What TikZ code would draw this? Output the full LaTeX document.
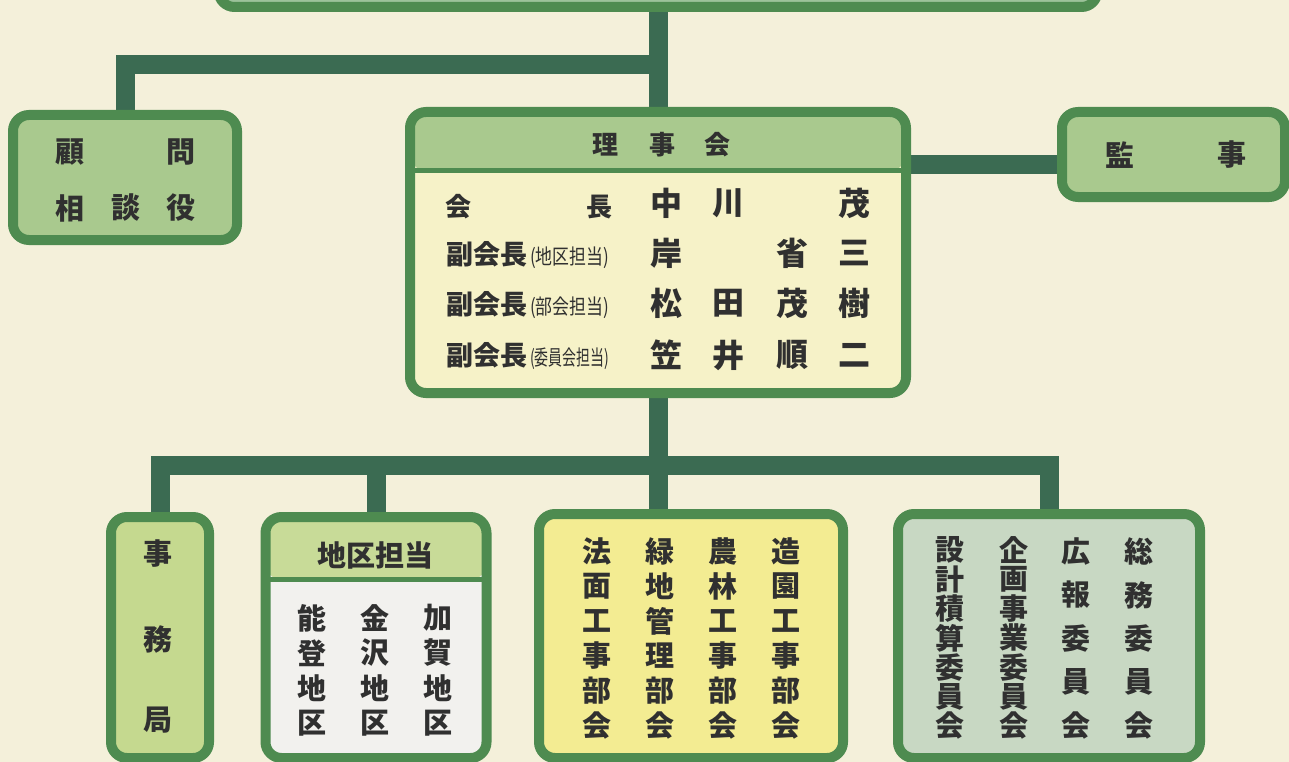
\documentclass[tikz,border=0pt]{standalone}
\usepackage{fontspec}
\usepackage{graphicx}
\newfontfamily\jp{Noto Sans CJK JP}
\IfFontExistsTF{Noto Sans CJK JP Black}{\newfontfamily\jpk{Noto Sans CJK JP Black}}{\newfontfamily\jpk{Noto Sans CJK JP}[UprightFont=*/B]}
\pgfdeclarelayer{back}
\pgfdeclarelayer{bg}
\pgfsetlayers{back,bg,main}
\definecolor{bgc}{HTML}{F4F0DA}
\definecolor{bord}{HTML}{4E8B50}
\definecolor{conng}{HTML}{3B6B52}
\definecolor{lgreen}{HTML}{A9C98E}
\definecolor{topg}{HTML}{9CC29A}
\definecolor{cream}{HTML}{F6F2C8}
\definecolor{ygreen}{HTML}{C5D98F}
\definecolor{hdry}{HTML}{C8DB98}
\definecolor{whitish}{HTML}{F2F1EE}
\definecolor{yell}{HTML}{F3EC92}
\definecolor{bluish}{HTML}{C8D8C3}
\definecolor{ink}{HTML}{303030}
\tikzset{
  box/.style={draw=bord, line width=10pt, rounded corners=16pt, inner sep=0pt},
  conn/.style={line width=19pt, draw=conng, line join=miter},
  t/.style={inner sep=0pt, text=ink, font=\jpk\fontsize{29}{29}\selectfont},
  th/.style={inner sep=0pt, text=ink, font=\jpk\fontsize{26}{26}\selectfont},
  tn/.style={inner sep=0pt, text=ink, font=\jp\bfseries\fontsize{32}{32}\selectfont},
  hdr/.style 2 args={path picture={
     \fill[#1] (path picture bounding box.north west) rectangle ([yshift=-#2]path picture bounding box.north east);
     \draw[bord, line width=5pt] ([yshift=-#2]path picture bounding box.north west) -- ([yshift=-#2]path picture bounding box.north east);}},
}
\newcommand{\fukulbl}[1]{{\fontsize{27}{27}\selectfont 副会長}\hspace{3pt}\resizebox{79pt}{\height}{\fontsize{21}{21}\selectfont\jp(#1)}}
\begin{document}
\begin{tikzpicture}[x=1pt,y=-1pt]
\useasboundingbox (0,0) rectangle (1289,762);
\begin{pgfonlayer}{back}
\fill[bgc] (0,0) rectangle (1289,762);
\end{pgfonlayer}
\clip (0,0) rectangle (1289,762);
% boxes
\node[box, fill=topg, minimum width=879pt, minimum height=100pt] (top) at (658,-43) {};
\node[box, fill=lgreen, minimum width=224pt, minimum height=125pt] (komon) at (125,177.5) {};
\node[box, fill=cream, hdr={lgreen}{58.5pt}, minimum width=496pt, minimum height=281pt] (rijikai) at (658,252.5) {};
\node[box, fill=lgreen, minimum width=223pt, minimum height=85pt] (kanji) at (1173.5,154.5) {};
\node[box, fill=ygreen, minimum width=98pt, minimum height=241pt] (jimu) at (160,637.5) {};
\node[box, fill=whitish, hdr={hdry}{62.5pt}, minimum width=221pt, minimum height=241pt] (chiku) at (376,637.5) {};
\node[box, fill=yell, minimum width=304pt, minimum height=244pt] (bukai) at (691,636) {};
\node[box, fill=bluish, minimum width=302pt, minimum height=244pt] (iinkai) at (1049,636) {};
% connectors
\coordinate (j1) at (658,65);
\coordinate (j3) at (658,465);
\coordinate (jk) at (0,165);
\begin{pgfonlayer}{bg}
\draw[conn] (top) -- (rijikai);
\draw[conn] (komon) |- (j1);
\draw[conn] (rijikai.east |- jk) -- (kanji.west |- jk);
\draw[conn] (rijikai) -- (rijikai |- bukai.north);
\draw[conn] (jimu) |- (j3) -| (iinkai);
\draw[conn] (chiku) -- (chiku |- j3);
\end{pgfonlayer}
% komon text
\node[t] (k1) at (70,152) {顧};
\node[t] (k2) at (181,152) {問};
\node[t] (k3) at (70,208) {相};
\node[t] (k4) at (126,208) {談};
\node[t] (k5) at (181,208) {役};
% kanji text
\node[t] (ka1) at (1120,155) {監};
\node[t] (ka2) at (1232,155) {事};
% rijikai
\node[th] (r1) at (605,145) {理};
\node[th] (r2) at (662,145) {事};
\node[th] (r3) at (717,145) {会};
\node[th] (p1) at (458,207) {会};
\node[th] (p2) at (599,207) {長};
\node[th, anchor=west] (p3) at (446,255) {\fukulbl{地区担当}};
\node[th, anchor=west] (p4) at (446,305) {\fukulbl{部会担当}};
\node[th, anchor=west] (p5) at (446,356) {\fukulbl{委員会担当}};
\node[tn] (n11) at (666,203) {中};
\node[tn] (n12) at (728,203) {川};
\node[tn] (n14) at (854,203) {茂};
\node[tn] (n21) at (666,253) {岸};
\node[tn] (n23) at (792,253) {省};
\node[tn] (n24) at (854,253) {三};
\node[tn] (n31) at (666,303) {松};
\node[tn] (n32) at (728,303) {田};
\node[tn] (n33) at (792,303) {茂};
\node[tn] (n34) at (854,303) {樹};
\node[tn] (n41) at (666,355) {笠};
\node[tn] (n42) at (728,355) {井};
\node[tn] (n43) at (792,355) {順};
\node[tn] (n44) at (854,355) {二};
% jimu
\node[t] (jm1) at (158,554) {事};
\node[t] (jm2) at (158,639) {務};
\node[t] (jm3) at (158,720) {局};
% chiku
\node[t] (ch0) at (375,555) {地区担当};
\foreach \c [count=\i] in {能,登,地,区} \node[t] (cha\i) at (312,583+35*\i) {\c};
\foreach \c [count=\i] in {金,沢,地,区} \node[t] (chb\i) at (375,583+35*\i) {\c};
\foreach \c [count=\i] in {加,賀,地,区} \node[t] (chc\i) at (438,583+35*\i) {\c};
% bukai
\foreach \c [count=\i] in {法,面,工,事,部,会} \node[t] (ba\i) at (597,516+35*\i) {\c};
\foreach \c [count=\i] in {緑,地,管,理,部,会} \node[t] (bb\i) at (660,516+35*\i) {\c};
\foreach \c [count=\i] in {農,林,工,事,部,会} \node[t] (bc\i) at (723,516+35*\i) {\c};
\foreach \c [count=\i] in {造,園,工,事,部,会} \node[t] (bd\i) at (786,516+35*\i) {\c};
% iinkai
\foreach \c [count=\i] in {設,計,積,算,委,員,会} \node[t] (ia\i) at (950,520.7+29.3*\i) {\c};
\foreach \c [count=\i] in {企,画,事,業,委,員,会} \node[t] (ib\i) at (1014,520.7+29.3*\i) {\c};
\foreach \c [count=\i] in {広,報,委,員,会} \node[t] (ic\i) at (1076,508+43.5*\i) {\c};
\foreach \c [count=\i] in {総,務,委,員,会} \node[t] (id\i) at (1139,508+43.5*\i) {\c};
\end{tikzpicture}
\end{document}
